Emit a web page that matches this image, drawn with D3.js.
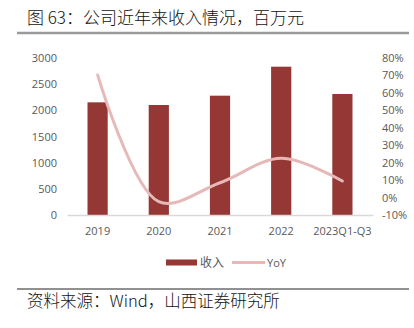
<!DOCTYPE html>
<html><head><meta charset="utf-8">
<script src="https://cdn.jsdelivr.net/npm/d3@7"></script>
<style>body{margin:0;background:#fff}svg{display:block}</style>
</head><body>
<svg id="c" width="414" height="328"></svg>
<script>
const categories = ["2019","2020","2021","2022","2023Q1-Q3"];
const revenue = [2153, 2102, 2280, 2834, 2312];
const yoy = [70.3, -2.4, 8.5, 22.5, 9.5];
const leftTicks = [0,500,1000,1500,2000,2500,3000];
const rightTicks = [-10,0,10,20,30,40,50,60,70,80];
const title = "图 63：公司近年来收入情况，百万元";
const source = "资料来源：Wind，山西证券研究所";

const svg = d3.select("#c");
const font = "'Noto Sans CJK SC', 'Noto Sans', sans-serif";
const tickFont = "'Open Sans', 'Liberation Sans', sans-serif";

svg.append("text").attr("x",27).attr("y",24).attr("font-family",font)
  .attr("font-size",17).attr("font-weight",300).attr("fill","#111").text(title);
svg.append("line").attr("x1",17).attr("x2",409).attr("y1",33).attr("y2",33)
  .attr("stroke","#9a9a9a").attr("stroke-width",2.5);

const x = d3.scaleBand().domain(categories).range([67,373]).paddingInner(0.67).paddingOuter(0.335);
const yL = d3.scaleLinear().domain([0,3000]).range([215,58]);
const yR = d3.scaleLinear().domain([-10,80]).range([215,58]);

const gl = svg.append("g").attr("transform","translate(62,0)")
  .call(d3.axisLeft(yL).tickValues(leftTicks).tickSize(0).tickPadding(5).tickFormat(d3.format("d")));
gl.select(".domain").remove();
gl.selectAll("text").attr("font-family",tickFont).attr("font-size",11).attr("fill","#595959");

const gr = svg.append("g").attr("transform","translate(380,0)")
  .call(d3.axisRight(yR).tickValues(rightTicks).tickSize(0).tickPadding(2).tickFormat(d=>d+"%"));
gr.select(".domain").remove();
gr.selectAll("text").attr("font-family",tickFont).attr("font-size",11).attr("fill","#595959");

svg.append("g").selectAll("rect").data(revenue).join("rect")
  .attr("x",(d,i)=>x(categories[i])).attr("width",x.bandwidth())
  .attr("y",d=>yL(d)).attr("height",d=>yL(0)-yL(d)).attr("fill","#953735");

const gx = svg.append("g").attr("transform","translate(0,215)")
  .call(d3.axisBottom(x).tickSize(0).tickPadding(12));
gx.select(".domain").attr("stroke","#d9d9d9").attr("stroke-width",1.5);
gx.selectAll("text").attr("font-family",tickFont).attr("font-size",11).attr("fill","#595959");

const line = d3.line().x((d,i)=>x(categories[i])+x.bandwidth()/2).y(d=>yR(d))
  .curve(d3.curveCatmullRom.alpha(0.5));
svg.append("path").datum(yoy).attr("d",line).attr("fill","none")
  .attr("stroke","#e6b9b8").attr("stroke-width",3).attr("stroke-linecap","round");

// legend
const lg = svg.append("g");
lg.append("rect").attr("x",166).attr("y",259.5).attr("width",31).attr("height",6).attr("fill","#953735");
lg.append("text").attr("x",200).attr("y",267).attr("font-family",font).attr("font-size",12).attr("fill","#595959").text("收入");
lg.append("line").attr("x1",232).attr("x2",265).attr("y1",262.5).attr("y2",262.5).attr("stroke","#e6b9b8").attr("stroke-width",3);
lg.append("text").attr("x",267).attr("y",267).attr("font-family",tickFont).attr("font-size",11).attr("fill","#595959").text("YoY");

svg.append("line").attr("x1",17).attr("x2",409).attr("y1",289).attr("y2",289)
  .attr("stroke","#222").attr("stroke-width",1);
svg.append("text").attr("x",27).attr("y",307).attr("font-family",font)
  .attr("font-size",16.5).attr("font-weight",300).attr("fill","#111").text(source);
</script>
</body></html>
